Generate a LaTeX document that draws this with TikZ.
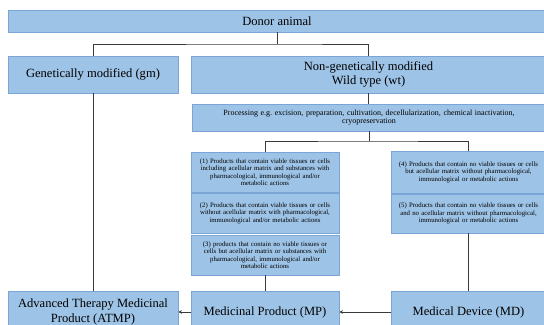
\documentclass[tikz,border=0pt]{standalone}
\usepackage{fontspec}
\setmainfont{Liberation Serif}
\usetikzlibrary{arrows.meta}
\definecolor{boxfill}{HTML}{9DC3E6}
\definecolor{boxedge}{HTML}{7BA5D6}
\definecolor{linecol}{HTML}{3A3A3A}
\tikzset{
  box/.style={draw=boxedge, fill=boxfill, line width=0.8bp, inner sep=0pt, align=center, text=black},
  bigtext/.style={font=\fontsize{12.6}{14.5}\selectfont},
  proctext/.style={font=\fontsize{8.0}{8.8}\selectfont},
  smalltext/.style={font=\fontsize{6.8}{7.5}\selectfont},
  conn/.style={draw=linecol, line width=1bp},
  arr/.style={conn, -{Stealth[length=3.5bp,width=3.5bp]}}
}
\begin{document}
\begin{tikzpicture}[x=1bp,y=-1bp]
\clip (0,0) rectangle (544,324);
\fill[white] (0,0) rectangle (544,324);
% top level
\node[box,bigtext,minimum width=538bp,minimum height=22bp] (donor) at (277,21) {Donor animal};
\node[box,bigtext,minimum width=170bp,minimum height=37bp] (gm) at (93,74.5) {Genetically modified (gm)};
\node[box,bigtext,minimum width=355bp,minimum height=37bp] (nongm) at (368.5,74.5) {Non-genetically modified\\Wild type (wt)};
\node[box,proctext,minimum width=354bp,minimum height=27bp,text width=345bp] (proc) at (369,117.5) {Processing e.g.\ excision, preparation, cultivation, decellularization, chemical inactivation,\\cryopreservation};
% left column of product types
\node[box,smalltext,minimum width=148bp,minimum height=40bp,text width=146bp] (p1) at (265,172) {(1) Products that contain viable tissues or cells\\including acellular matrix and substances with\\pharmacological, immunological and/or\\metabolic actions};
\node[box,smalltext,minimum width=148bp,minimum height=40bp,text width=146bp] (p2) at (265,213) {(2) Products that contain viable tissues or cells\\without acellular matrix with pharmacological,\\immunological and/or metabolic actions};
\node[box,smalltext,minimum width=148bp,minimum height=40bp,text width=146bp] (p3) at (265,255) {(3) products that contain no viable tissues or\\cells but acellular matrix or substances with\\pharmacological, immunological and/or\\metabolic actions};
% right column
\node[box,smalltext,minimum width=155bp,minimum height=42bp,text width=150bp] (p4) at (468.5,172) {(4) Products that contain no viable tissues or cells\\but acellular matrix without pharmacological,\\immunological or metabolic actions};
\node[box,smalltext,minimum width=155bp,minimum height=39bp,text width=150bp] (p5) at (468.5,213.5) {(5) Products that contain no viable tissues or cells\\and no acellular matrix without pharmacological,\\immunological or metabolic actions};
% bottom row
\node[box,bigtext,minimum width=170bp,minimum height=42bp] (atmp) at (93,312) {Advanced Therapy Medicinal\\Product (ATMP)};
\node[box,bigtext,minimum width=148bp,minimum height=42bp] (mp) at (265,312) {Medicinal Product (MP)};
\node[box,bigtext,minimum width=155bp,minimum height=42bp] (md) at (468.5,312) {Medical Device (MD)};
% junctions
\coordinate (j1) at (277,44);
\coordinate (j2) at (369,141);
% connectors
\draw[conn] (donor.south) -- (j1);
\draw[conn] (gm.north) |- (j1) -| (nongm.north);
\draw[conn] (gm.south) -- (atmp.north);
\draw[conn] (nongm.south) -- (nongm.south |- proc.north);
\draw[conn] (proc.south) -- (j2);
\draw[conn] (p1.north) |- (j2) -| (p4.north);
\draw[conn] (p3.south) -- (mp.north);
\draw[conn] (p5.south) -- (md.north);
\draw[arr] (md.west) -- (mp.east);
\draw[arr] (mp.west) -- (atmp.east);
\end{tikzpicture}
\end{document}
